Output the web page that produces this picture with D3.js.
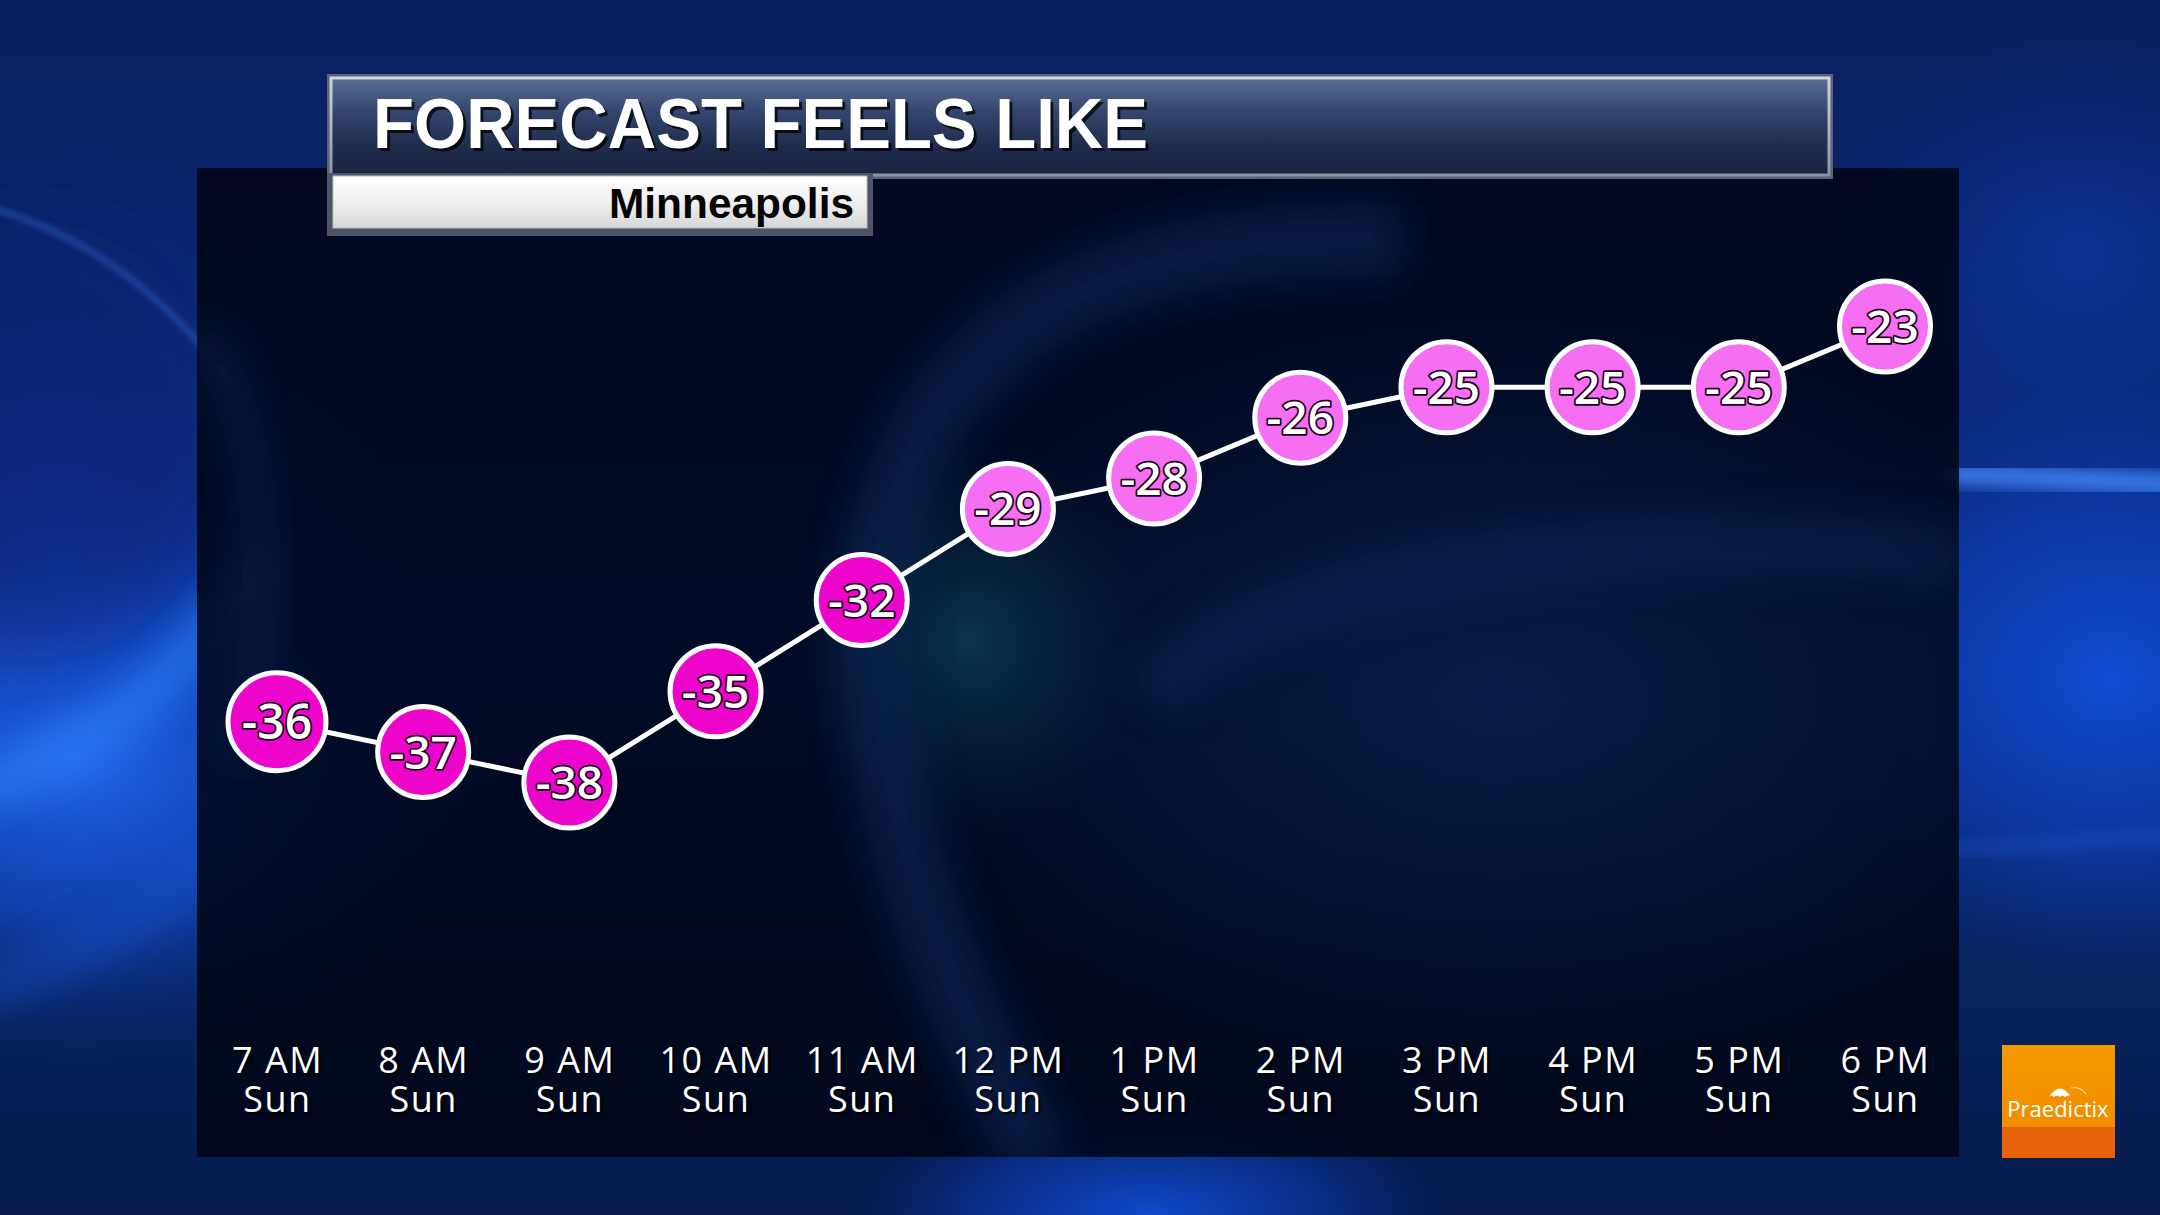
<!DOCTYPE html>
<html>
<head>
<meta charset="utf-8">
<script src="https://cdn.jsdelivr.net/npm/d3@7"></script>
<style>
html,body{margin:0;padding:0;background:#0a2466;overflow:hidden;}
svg{display:block;}
</style>
</head>
<body>
<svg id="chart" width="2160" height="1215"></svg>
<script>
// ---- data ----
const hours = ["7 AM","8 AM","9 AM","10 AM","11 AM","12 PM","1 PM","2 PM","3 PM","4 PM","5 PM","6 PM"];
const days = ["Sun","Sun","Sun","Sun","Sun","Sun","Sun","Sun","Sun","Sun","Sun","Sun"];
const feelsLike = [-36,-37,-38,-35,-32,-29,-28,-26,-25,-25,-25,-23];
const titleText = "FORECAST FEELS LIKE";
const cityText = "Minneapolis";
const logoText = "Praedictix";

const W = 2160, H = 1215;
const svg = d3.select("#chart");
const defs = svg.append("defs");

function linGrad(id, stops, x1="0",y1="0",x2="0",y2="1"){
  const g = defs.append("linearGradient").attr("id",id).attr("x1",x1).attr("y1",y1).attr("x2",x2).attr("y2",y2);
  stops.forEach(s=>g.append("stop").attr("offset",s[0]).attr("stop-color",s[1]).attr("stop-opacity",s[2]===undefined?1:s[2]));
}
function radGrad(id, stops){
  const g = defs.append("radialGradient").attr("id",id);
  stops.forEach(s=>g.append("stop").attr("offset",s[0]).attr("stop-color",s[1]).attr("stop-opacity",s[2]===undefined?1:s[2]));
}
linGrad("bgBase",[[0,"#0a1f5e"],[0.3,"#0a2978"],[0.55,"#0b318e"],[0.8,"#08245f"],[1,"#061a4c"]]);
radGrad("glowBlue",[[0,"#2468ee",0.95],[0.5,"#1450d6",0.6],[1,"#0b35a0",0]]);
radGrad("glowSoft",[[0,"#0f4fdc",0.9],[0.6,"#0c40bb",0.5],[1,"#0b35a0",0]]);
radGrad("glowMid",[[0,"#0e3fb8",0.8],[1,"#0b35a0",0]]);
radGrad("glowTeal",[[0,"#0f5a6a",0.55],[1,"#0a3040",0]]);
radGrad("glowPanel",[[0,"#0c2a60",0.55],[1,"#0c2a60",0]]);
linGrad("titleFill",[[0,"#5a6d95"],[0.35,"#34466e"],[0.7,"#1f2c4c"],[1,"#1a2440"]]);
linGrad("titleBorder",[[0,"#d0d6e0"],[1,"#8a92a6"]]);
linGrad("cityFill",[[0,"#ffffff"],[0.5,"#f0f0f0"],[1,"#d6d6d6"]]);
linGrad("logoTop",[[0,"#f49a00"],[1,"#f18d00"]]);

const blur = (id, s) => defs.append("filter").attr("id",id).attr("x","-50%").attr("y","-50%").attr("width","200%").attr("height","200%")
  .append("feGaussianBlur").attr("stdDeviation",s);
blur("b40",40); blur("b20",20); blur("b8",8); blur("b3",3);

// ---- background ----
const bg = svg.append("g");
bg.append("rect").attr("width",W).attr("height",H).attr("fill","url(#bgBase)");
bg.append("ellipse").attr("cx",60).attr("cy",560).attr("rx",330).attr("ry",380).attr("fill","url(#glowMid)");
bg.append("ellipse").attr("cx",80).attr("cy",760).attr("rx",420).attr("ry",300).attr("fill","url(#glowBlue)");
bg.append("ellipse").attr("cx",2110).attr("cy",680).attr("rx",330).attr("ry",300).attr("fill","url(#glowSoft)");
bg.append("ellipse").attr("cx",2080).attr("cy",250).attr("rx",260).attr("ry",220).attr("fill","url(#glowMid)").attr("opacity",0.6);
bg.append("ellipse").attr("cx",1150).attr("cy",1215).attr("rx",300).attr("ry",120).attr("fill","url(#glowSoft)");
// dark swirl on the left
bg.append("ellipse").attr("cx",30).attr("cy",440).attr("rx",200).attr("ry",220).attr("fill","#071d62").attr("opacity",0.5).attr("filter","url(#b40)");
// bright streaks
bg.append("path").attr("d","M-60,800 C 60,770 170,700 260,560")
  .attr("fill","none").attr("stroke","#2b7af5").attr("stroke-width",40).attr("opacity",0.8).attr("filter","url(#b20)");
bg.append("path").attr("d","M-20,205 C 80,230 160,290 230,380")
  .attr("fill","none").attr("stroke","#3a7ef0").attr("stroke-width",4).attr("opacity",0.55).attr("filter","url(#b3)");
bg.append("path").attr("d","M-40,1000 C 80,960 180,900 260,820")
  .attr("fill","none").attr("stroke","#1d5fe0").attr("stroke-width",26).attr("opacity",0.45).attr("filter","url(#b20)");
bg.append("path").attr("d","M1950,474 C 2030,476 2100,480 2200,486")
  .attr("fill","none").attr("stroke","#4a8cff").attr("stroke-width",20).attr("opacity",0.85).attr("filter","url(#b8)");
bg.append("path").attr("d","M1950,850 C 2030,845 2100,840 2200,835")
  .attr("fill","none").attr("stroke","#2a66e0").attr("stroke-width",10).attr("opacity",0.35).attr("filter","url(#b8)");

// ---- dark panel ----
const panel = {x:197, y:168, w:1762, h:989};
defs.append("clipPath").attr("id","panelClip").append("rect")
  .attr("x",panel.x).attr("y",panel.y).attr("width",panel.w).attr("height",panel.h);
svg.append("rect").attr("x",panel.x).attr("y",panel.y).attr("width",panel.w).attr("height",panel.h)
  .attr("fill","#010616").attr("opacity",0.87);
const pg = svg.append("g").attr("clip-path","url(#panelClip)");
pg.append("ellipse").attr("cx",1500).attr("cy",700).attr("rx",600).attr("ry",380).attr("fill","url(#glowPanel)");
pg.append("ellipse").attr("cx",970).attr("cy",640).attr("rx",180).attr("ry",200).attr("fill","url(#glowTeal)");
pg.append("path").attr("d","M1400,240 C 1000,230 850,420 880,700 C 900,900 980,1050 1040,1160")
  .attr("fill","none").attr("stroke","#0e2c62").attr("stroke-width",70).attr("opacity",0.5).attr("filter","url(#b20)");
pg.append("path").attr("d","M1960,560 C 1700,520 1250,560 1150,700")
  .attr("fill","none").attr("stroke","#0d2a5e").attr("stroke-width",60).attr("opacity",0.4).attr("filter","url(#b20)");
pg.append("path").attr("d","M200,330 C 260,420 280,560 240,760")
  .attr("fill","none").attr("stroke","#0d2658").attr("stroke-width",40).attr("opacity",0.4).attr("filter","url(#b20)");

// ---- title bar ----
const tb = {x:330, y:77, w:1500, h:99};
svg.append("rect").attr("x",tb.x-3).attr("y",tb.y-3).attr("width",tb.w+6).attr("height",tb.h+6).attr("fill","#5b6378");
svg.append("rect").attr("x",tb.x+1).attr("y",tb.y+1).attr("width",tb.w-2).attr("height",tb.h-2)
  .attr("fill","url(#titleFill)").attr("stroke","url(#titleBorder)").attr("stroke-width",3);
svg.append("text").attr("x",376).attr("y",151).text(titleText)
  .attr("font-family","'Liberation Sans', Arial, sans-serif").attr("font-weight","bold").attr("font-size",70)
  .attr("textLength",775).attr("lengthAdjust","spacingAndGlyphs").attr("fill","#000").attr("opacity",0.75);
svg.append("text").attr("x",373).attr("y",148).text(titleText)
  .attr("font-family","'Liberation Sans', Arial, sans-serif").attr("font-weight","bold").attr("font-size",70)
  .attr("textLength",775).attr("lengthAdjust","spacingAndGlyphs").attr("fill","#ffffff");

// ---- city box ----
const cb = {x:330, y:173, w:540, h:59};
svg.append("rect").attr("x",cb.x-3).attr("y",cb.y).attr("width",cb.w+6).attr("height",cb.h+4).attr("fill","#4d5466");
svg.append("rect").attr("x",cb.x+3).attr("y",cb.y+3).attr("width",cb.w-6).attr("height",cb.h-7)
  .attr("fill","url(#cityFill)").attr("stroke","#b9bcc4").attr("stroke-width",1);
svg.append("text").attr("x",854).attr("y",218).attr("text-anchor","end").text(cityText)
  .attr("font-family","'Liberation Sans', Arial, sans-serif").attr("font-weight","bold").attr("font-size",43)
  .attr("textLength",245).attr("lengthAdjust","spacingAndGlyphs").attr("fill","#050505");

// ---- scales ----
const x = d3.scalePoint().domain(hours).range([277, 1885]);
const y = d3.scaleLinear().domain([-38, -23]).range([782.5, 326.5]);
const color = d3.scaleThreshold().domain([-30]).range(["#ee05cc", "#f66ef2"]);

// ---- x axis ----
const axis = svg.append("g").attr("transform","translate(0,1073)")
  .call(d3.axisBottom(x).tickSize(0).tickPadding(0));
axis.select(".domain").remove();
axis.selectAll(".tick text").each(function(d,i){
  const t = d3.select(this);
  t.text(null).attr("y",0).attr("dy",null)
   .attr("font-family","'Open Sans', 'Noto Sans', sans-serif").attr("font-size",36)
   .attr("letter-spacing",1.5).attr("fill","#ffffff").attr("text-anchor","middle")
   .style("text-shadow","2px 2px 2px rgba(0,0,0,0.8)");
  t.append("tspan").attr("x",0).attr("y",0).text(d);
  t.append("tspan").attr("x",0).attr("y",39).text(days[i]);
});

// ---- line ----
const pts = hours.map((h,i)=>({h, v:feelsLike[i], i}));
svg.append("path").datum(pts)
  .attr("d", d3.line().x(d=>x(d.h)).y(d=>y(d.v)))
  .attr("fill","none").attr("stroke","#ffffff").attr("stroke-width",5);

// ---- circles (first / current hour drawn slightly larger) ----
const nodes = svg.append("g").selectAll("g").data(pts).join("g")
  .attr("transform", d=>`translate(${x(d.h)},${y(d.v)})`);
nodes.append("circle").attr("r",d=>d.i===0?49:45.5).attr("fill",d=>color(d.v))
  .attr("stroke","#ffffff").attr("stroke-width",5);
nodes.append("text").text(d=>d.v)
  .attr("text-anchor","middle").attr("dy","0.36em")
  .attr("font-family","'Open Sans', 'Noto Sans', sans-serif").attr("font-weight",600)
  .attr("font-size",d=>d.i===0?48:46)
  .attr("fill","#ffffff").attr("stroke","#1a0016").attr("stroke-width",3.5)
  .attr("paint-order","stroke").attr("stroke-linejoin","round");

// ---- logo ----
const lg = svg.append("g");
lg.append("rect").attr("x",2002).attr("y",1045).attr("width",113).attr("height",82).attr("fill","url(#logoTop)");
lg.append("rect").attr("x",2002).attr("y",1127).attr("width",113).attr("height",31).attr("fill","#e8620a");
lg.append("path").attr("d","M2049,1097 Q2060,1080 2071,1097 Q2068,1094 2065,1097 Q2062,1094 2060,1097 Q2057,1094 2054,1097 Q2051,1094 2049,1097 Z").attr("fill","#ffffff");
lg.append("path").attr("d","M2071,1088 Q2080,1086 2086,1094").attr("fill","none").attr("stroke","#ffffff").attr("stroke-width",1).attr("opacity",0.8);
lg.append("text").attr("x",2058).attr("y",1117).attr("text-anchor","middle").text(logoText)
  .attr("font-family","'Open Sans', 'Noto Sans', sans-serif").attr("font-size",22).attr("fill","#ffffff");
</script>
</body>
</html>
